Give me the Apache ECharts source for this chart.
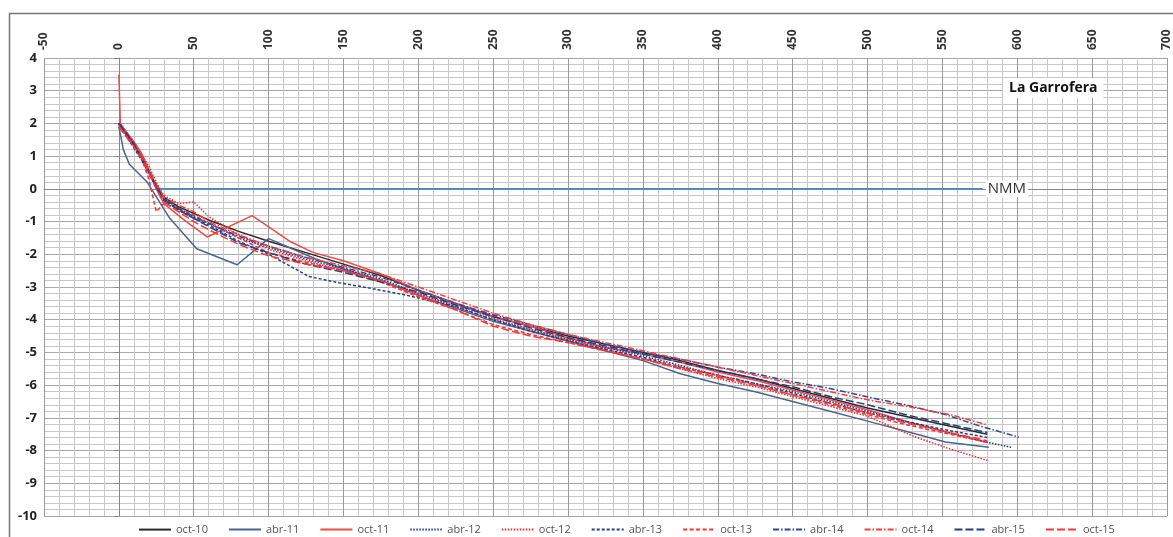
<!DOCTYPE html>
<html><head><meta charset="utf-8">
<script src="https://cdn.jsdelivr.net/npm/echarts@6/dist/echarts.min.js"></script>
<style>html,body{margin:0;padding:0;background:#fff}#c{width:1173px;height:537px}</style>
</head><body><div id="c"></div>
<script>
const seriesNames = ['oct-10','abr-11','oct-11','abr-12','oct-12','abr-13','oct-13','abr-14','oct-14','abr-15','oct-15'];
const xTicks = {min:-50, max:700, step:50};
const yTicks = {min:-10, max:4, step:1};
const nmmLine = [[25,0],[577,0]];

const oct10 = [[0,2.0],[5,1.7],[10,1.35],[15,1.0],[20,0.55],[25,0.1],[30,-0.25],[40,-0.55],[50,-0.75],[60,-0.95],[80,-1.3],[100,-1.6],[125,-1.95],[150,-2.3],[175,-2.65],[200,-3.1],[225,-3.5],[250,-3.9],[275,-4.2],[300,-4.5],[325,-4.75],[350,-5.0],[375,-5.25],[400,-5.55],[425,-5.8],[450,-6.1],[475,-6.4],[500,-6.7],[525,-6.95],[550,-7.2],[580,-7.5]];
const abr11 = [[0,1.9],[3,1.2],[7,0.75],[19,0.2],[34,-0.9],[52,-1.83],[79,-2.32],[100,-1.52],[132,-2.15],[150,-2.45],[175,-2.8],[200,-3.25],[225,-3.65],[250,-4.05],[275,-4.35],[300,-4.65],[325,-4.95],[350,-5.25],[375,-5.65],[400,-5.95],[425,-6.2],[450,-6.5],[475,-6.8],[500,-7.1],[525,-7.4],[552,-7.74],[581,-7.9]];
const oct11 = [[0,3.5],[1,2.0],[5,1.75],[10,1.45],[15,1.1],[20,0.6],[25,0.0],[30,-0.45],[45,-1.0],[59,-1.47],[89,-0.82],[114,-1.6],[130,-1.95],[150,-2.2],[175,-2.6],[200,-3.1],[225,-3.5],[250,-3.9],[275,-4.2],[300,-4.55],[325,-4.85],[350,-5.05],[375,-5.3],[400,-5.6],[425,-5.85],[450,-6.15],[475,-6.45],[500,-6.75],[525,-7.1],[550,-7.4],[580,-7.75]];
const abr12 = [[0,2.0],[5,1.65],[10,1.3],[15,0.9],[20,0.45],[25,0.05],[30,-0.3],[40,-0.6],[50,-0.85],[60,-1.05],[80,-1.5],[100,-1.8],[125,-2.15],[150,-2.45],[175,-2.75],[200,-3.2],[225,-3.6],[250,-4.0],[275,-4.3],[300,-4.6],[325,-4.85],[350,-5.1],[375,-5.4],[400,-5.7],[425,-5.95],[450,-6.2],[475,-6.5],[500,-6.8],[525,-7.1],[550,-7.4],[575,-7.7],[596,-7.9]];
const oct12 = [[0,1.95],[5,1.7],[10,1.4],[15,1.05],[20,0.7],[25,0.2],[30,-0.2],[40,-0.45],[50,-0.4],[60,-0.85],[80,-1.4],[100,-1.85],[125,-2.2],[150,-2.5],[175,-2.8],[200,-3.2],[225,-3.55],[250,-3.95],[275,-4.3],[300,-4.6],[325,-4.9],[350,-5.2],[375,-5.5],[400,-5.8],[425,-6.05],[450,-6.35],[475,-6.65],[500,-6.95],[530,-7.55],[555,-7.95],[580,-8.3]];
const abr13 = [[0,1.9],[5,1.6],[10,1.25],[15,0.9],[20,0.5],[25,0.05],[30,-0.3],[40,-0.65],[50,-0.9],[60,-1.1],[80,-1.6],[100,-2.0],[127,-2.68],[147,-2.87],[161,-2.98],[190,-3.23],[225,-3.6],[250,-4.0],[275,-4.35],[300,-4.65],[325,-4.9],[350,-5.15],[375,-5.45],[400,-5.7],[425,-5.95],[450,-6.25],[475,-6.55],[500,-6.85],[525,-7.1],[550,-7.35],[580,-7.6]];
const oct13 = [[0,1.95],[5,1.6],[10,1.3],[15,0.95],[20,0.3],[25,-0.7],[30,-0.45],[40,-0.6],[50,-0.8],[60,-1.05],[80,-1.5],[100,-1.95],[125,-2.25],[150,-2.5],[175,-2.85],[200,-3.3],[225,-3.7],[250,-4.15],[275,-4.45],[300,-4.7],[325,-4.95],[350,-5.2],[375,-5.45],[400,-5.7],[425,-6.0],[450,-6.3],[475,-6.6],[500,-6.9],[525,-7.2],[550,-7.45],[580,-7.75]];
const abr14 = [[0,2.0],[5,1.7],[10,1.4],[15,1.0],[20,0.55],[25,0.1],[30,-0.3],[40,-0.6],[50,-0.85],[60,-1.05],[80,-1.45],[100,-1.75],[125,-2.1],[150,-2.4],[175,-2.7],[200,-3.1],[225,-3.5],[250,-3.85],[275,-4.15],[300,-4.45],[325,-4.75],[350,-5.0],[374,-5.2],[400,-5.45],[425,-5.65],[450,-5.9],[475,-6.1],[501,-6.37],[525,-6.6],[552,-6.9],[575,-7.25],[601,-7.59]];
const oct14 = [[0,1.95],[5,1.65],[10,1.35],[15,1.0],[20,0.6],[25,0.15],[30,-0.25],[40,-0.5],[50,-0.7],[60,-1.0],[80,-1.4],[100,-1.75],[125,-2.1],[150,-2.35],[175,-2.6],[200,-3.0],[225,-3.4],[250,-3.8],[275,-4.15],[300,-4.45],[325,-4.7],[350,-4.95],[375,-5.2],[400,-5.45],[425,-5.7],[450,-5.95],[475,-6.2],[500,-6.45],[530,-6.68],[555,-6.9],[579,-7.2]];
const abr15 = [[0,2.0],[5,1.7],[10,1.35],[15,0.95],[20,0.5],[25,0.05],[30,-0.35],[40,-0.65],[50,-0.9],[60,-1.15],[80,-1.65],[100,-1.95],[125,-2.3],[150,-2.55],[175,-2.85],[200,-3.15],[225,-3.55],[250,-3.9],[275,-4.25],[300,-4.55],[325,-4.8],[350,-5.05],[375,-5.3],[400,-5.55],[425,-5.8],[450,-6.05],[475,-6.35],[500,-6.6],[525,-6.9],[550,-7.15],[580,-7.45]];
const oct15 = [[0,1.9],[5,1.6],[10,1.3],[15,0.95],[20,0.5],[25,0.0],[30,-0.4],[40,-0.7],[50,-1.0],[60,-1.25],[80,-1.7],[100,-2.05],[125,-2.3],[150,-2.5],[175,-2.8],[200,-3.25],[225,-3.7],[250,-4.2],[275,-4.5],[300,-4.7],[325,-4.95],[350,-5.2],[375,-5.5],[400,-5.75],[425,-6.0],[450,-6.3],[475,-6.55],[500,-6.85],[525,-7.15],[550,-7.4],[580,-7.7]];

const seriesData = [oct10,abr11,oct11,abr12,oct12,abr13,oct13,abr14,oct14,abr15,oct15];
const seriesColors = ['#2a2a2a','#4a6592','#f04a4a','#23408e','#ff2a2a','#23408e','#ff3030','#2a4a9a','#ff3a3a','#1f3f88','#ff3535'];
const seriesDash = ['solid','solid','solid',[1.5,1.5],[1.5,1.5],[3,2],[4,2.5],[6,2,1.5,2],[6,2,1.5,2],[8,3],[8,3]];

const chart = echarts.init(document.getElementById('c'));
const series = seriesNames.map((n,i)=>({
  name:n, type:'line', data:seriesData[i], symbol:'none', smooth:false,
  lineStyle:{color:seriesColors[i], width:1.5, type:seriesDash[i]},
  itemStyle:{color:seriesColors[i]}, z:3+i
}));
series.unshift({
  name:'NMM', type:'line', data:nmmLine, symbol:'none', silent:true,
  lineStyle:{color:'#3d8fd0', width:1.5}, z:2,
  endLabel:{show:true, formatter:'NMM', color:'#333', fontSize:15, fontFamily:'Open Sans', backgroundColor:'#fff', padding:[1,2], distance:3}
});

chart.setOption({
  animation:false,
  backgroundColor:'#fff',
  grid:{left:44, right:5, top:58, bottom:21},
  legend:{data:seriesNames, top:519, left:133, itemWidth:32, itemHeight:14, itemGap:20,
    itemStyle:{opacity:0},
    textStyle:{fontSize:11, color:'#555', fontFamily:'Open Sans'}},
  xAxis:{type:'value', position:'top', min:xTicks.min, max:xTicks.max, interval:xTicks.step,
    axisLine:{show:true, lineStyle:{color:'#888'}},
    axisTick:{show:false},
    axisLabel:{rotate:90, fontWeight:'bold', fontSize:12, color:'#333', fontFamily:'Open Sans', margin:8},
    splitLine:{show:true, lineStyle:{color:'#9a9a9a', width:1}},
    minorTick:{show:false, splitNumber:5},
    minorSplitLine:{show:true, lineStyle:{color:'#c8c8c8', width:1}}},
  yAxis:{type:'value', min:yTicks.min, max:yTicks.max, interval:yTicks.step,
    axisLine:{show:true, lineStyle:{color:'#888'}},
    axisTick:{show:true, length:5, lineStyle:{color:'#888'}},
    axisLabel:{fontWeight:'bold', fontSize:13, color:'#222', fontFamily:'Open Sans', margin:7},
    splitLine:{show:true, lineStyle:{color:'#a8a8a8', width:1}},
    minorTick:{show:false, splitNumber:5},
    minorSplitLine:{show:true, lineStyle:{color:'#c8c8c8', width:1}}},
  graphic:[
    {type:'rect', left:7, top:11, z:-10, shape:{width:1200, height:560}, style:{fill:'none', stroke:'#777', lineWidth:1.5}},
    {type:'text', left:1003, top:78, z:100, style:{text:'La Garrofera', fontFamily:'Open Sans', fontWeight:'bold', fontSize:14, fill:'#111', backgroundColor:'#fff', padding:[3,6]}}
  ],
  series:series
});
</script></body></html>
